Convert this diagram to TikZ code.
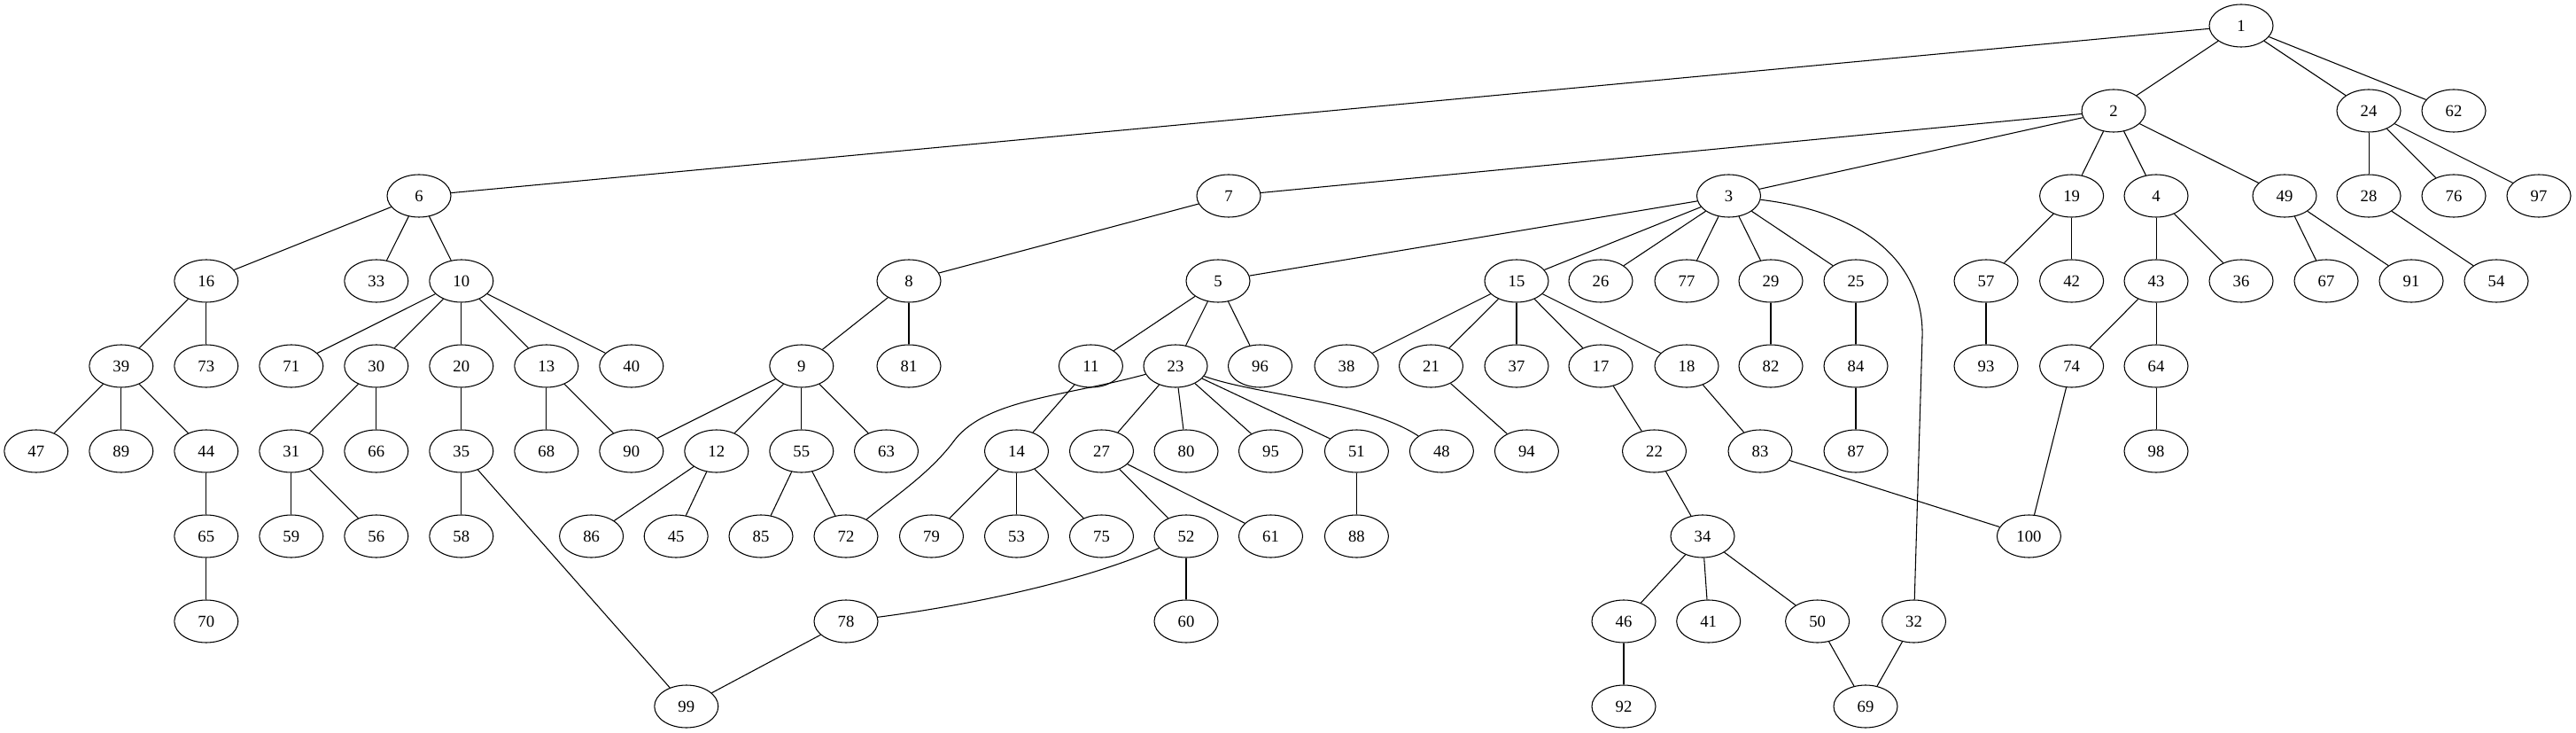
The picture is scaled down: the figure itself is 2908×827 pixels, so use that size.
\documentclass[tikz,border=0pt]{standalone}
\usepackage{fontspec}
\setmainfont{Liberation Serif}
\usetikzlibrary{shapes.geometric}
\tikzset{
  nd/.style={draw, ellipse, line width=0.8pt, minimum width=54pt, minimum height=36pt, inner sep=0pt, font=\fontsize{14pt}{16pt}\selectfont},
  ed/.style={line width=0.8pt}
}
\begin{document}
\begin{tikzpicture}[x=0.75pt,y=-0.75pt]
\useasboundingbox (0,0) rectangle (2908,827);
\foreach \n/\x/\y in {
 1/2530/29,
 2/2386/125, 24/2674/125, 62/2770/125,
 6/473/221, 7/1387/221, 3/1951.5/221, 19/2338.6/221, 4/2434/221, 49/2579/221, 28/2674/221, 76/2770/221, 97/2866/221,
 16/232.8/317, 33/424.8/317, 10/520.8/317, 8/1026/317, 5/1375/317, 15/1712/317, 26/1807/317, 77/1904/317, 29/1999/317, 25/2095/317, 57/2242/317, 42/2338.6/317, 43/2434/317, 36/2530/317, 67/2626/317, 91/2722/317, 54/2818/317,
 39/136.8/413, 73/232.8/413, 71/328.8/413, 30/424.8/413, 20/520.8/413, 13/616.8/413, 40/712.8/413, 9/904.8/413, 81/1026/413, 11/1231.4/413, 23/1327/413, 96/1422.5/413, 38/1520/413, 21/1615.5/413, 37/1712/413, 17/1807/413, 18/1904/413, 82/1999/413, 84/2095/413, 93/2242/413, 74/2338.6/413, 64/2434/413,
 47/40.8/509, 89/136.8/509, 44/232.8/509, 31/328.8/509, 66/424.8/509, 35/520.8/509, 68/616.8/509, 90/712.8/509, 12/808.8/509, 55/904.8/509, 63/1000.5/509, 14/1147.5/509, 27/1243.5/509, 80/1339/509, 95/1434.5/509, 51/1531.4/509, 48/1627.4/509, 94/1723.4/509, 22/1867.5/509, 83/1987/509, 87/2095/509, 98/2434/509,
 65/232.8/605, 59/328.8/605, 56/424.8/605, 58/520.8/605, 86/667.6/605, 45/763.2/605, 85/859/605, 72/955/605, 79/1051.5/605, 53/1147.5/605, 75/1243.5/605, 52/1339/605, 61/1434.5/605, 88/1531.4/605, 34/1922/605, 100/2290.4/605,
 70/232.8/701, 78/955/701, 60/1339/701, 46/1833/701, 41/1928.7/701, 50/2051.6/701, 32/2160.5/701,
 99/774.8/797, 92/1833/797, 69/2106/797}
  \node[nd] (n\n) at (\x,\y) {\n};
\foreach \a/\b in {
 1/6, 1/2, 1/24, 1/62,
 2/7, 2/3, 2/19, 2/4, 2/49,
 24/28, 24/76, 24/97,
 6/16, 6/33, 6/10, 7/8,
 3/5, 3/15, 3/26, 3/77, 3/29, 3/25,
 19/57, 19/42, 4/43, 4/36, 49/67, 49/91, 28/54,
 16/39, 16/73, 10/71, 10/30, 10/20, 10/13, 10/40,
 8/9, 8/81, 5/11, 5/23, 5/96,
 15/38, 15/21, 15/37, 15/17, 15/18, 29/82, 25/84, 57/93, 43/74, 43/64,
 39/47, 39/89, 39/44, 30/31, 30/66, 20/35, 13/68, 13/90,
 9/90, 9/12, 9/55, 9/63, 11/14,
 23/27, 23/80, 23/95, 23/51,
 21/94, 17/22, 18/83, 84/87, 64/98, 44/65,
 31/59, 31/56, 35/58, 35/99, 12/86, 12/45, 55/85, 55/72,
 14/79, 14/53, 14/75, 27/52, 27/61, 51/88, 22/34, 83/100, 74/100,
 65/70, 52/60, 34/46, 34/41, 34/50, 46/92, 50/69, 32/69, 78/99}
  \draw[ed] (n\a) -- (n\b);
\coordinate (c332) at (2170,380);
\draw[ed] (n3) .. controls (2110,240) and (2172,300) .. (c332) -- (n32);
\coordinate (c2372) at (1075,500);
\draw[ed] (n23) .. controls (1200,448) and (1110,450) .. (c2372) .. controls (1048,535) and (1010,560) .. (n72);
\draw[ed] (n23) .. controls (1420,446) and (1540,452) .. (n48);
\draw[ed] (n52) .. controls (1225,655) and (1100,682) .. (n78);
\end{tikzpicture}
\end{document}
